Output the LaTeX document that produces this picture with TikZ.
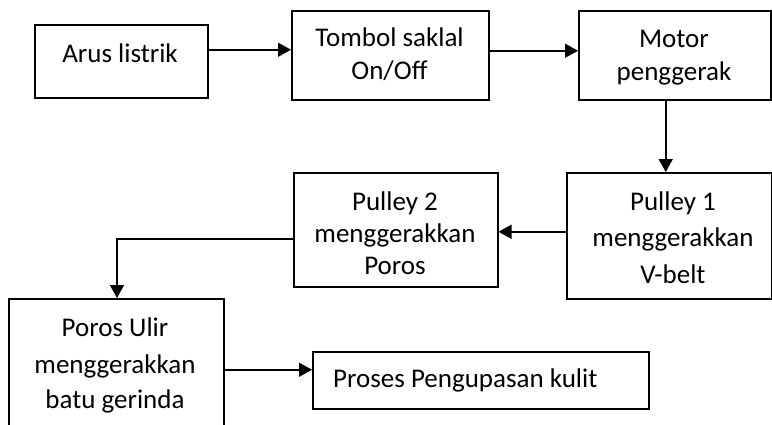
\documentclass[tikz,border=0pt]{standalone}
\usepackage{fontspec}
\setmainfont{Carlito}
\usetikzlibrary{arrows.meta}
\tikzset{
  box/.style={draw, line width=1.5pt, inner sep=0pt, anchor=north west},
  lbl/.style={anchor=base, align=center, inner sep=0pt, font=\fontsize{27}{32}\selectfont},
  arr/.style={line width=1.5pt, -{Triangle[length=13pt,width=14pt]}}
}
\begin{document}
\begin{tikzpicture}[x=1pt,y=-1pt]
\useasboundingbox[fill=white] (0,0) rectangle (772,424);
% boxes
\node[box, minimum width=173pt, minimum height=73pt] (arus) at (34,24) {};
\node[box, minimum width=197pt, minimum height=89pt] (tombol) at (291,10) {};
\node[box, minimum width=192pt, minimum height=89pt] (motor) at (578,10) {};
\node[box, minimum width=205pt, minimum height=126pt] (pul1) at (566,172) {};
\node[box, minimum width=204pt, minimum height=114pt] (pul2) at (293,172) {};
\node[box, minimum width=215pt, minimum height=150pt] (poros) at (8,298) {};
\node[box, minimum width=336pt, minimum height=57pt] (proses) at (312,351) {};
% labels (anchor base = baseline of last line)
\node[lbl] (arus-t) at (120,62) {Arus listrik};
\node[lbl] (tombol-t) at (389.5,79) {Tombol saklal\\[1pt]On/Off};
\node[lbl] (motor-t) at (674,80) {Motor\\[1pt]penggerak};
\node[lbl] (pul1-t) at (673,283) {Pulley 1\\[4.5pt]menggerakkan\\[4.5pt]V-belt};
\node[lbl] (pul2-t) at (395,274) {Pulley 2\\menggerakkan\\Poros};
\node[lbl] (poros-t) at (115,408) {Poros Ulir\\[4.5pt]menggerakkan\\[3pt]batu gerinda};
\node[lbl, anchor=base west] (proses-t) at (333,387) {Proses Pengupasan kulit};
% connectors
\coordinate (bend) at (117,239);
\draw[arr] ([yshift=11.5pt]arus.east) -- ([yshift=11.5pt]arus.east -| tombol.west);
\draw[arr] ([yshift=4.5pt]tombol.east) -- ([yshift=4.5pt]tombol.east -| motor.west);
\draw[arr] ([xshift=-9pt]motor.south) -- ([xshift=-9pt]motor.south |- pul1.north);
\draw[arr] ([yshift=4pt]pul1.west) -- ([yshift=4pt]pul1.west -| pul2.east);
\draw[arr] (pul2.west |- bend) -- (bend) -- (bend |- poros.north);
\draw[arr] ([yshift=4pt]poros.east) -- ([yshift=4pt]poros.east -| proses.west);
\end{tikzpicture}
\end{document}
